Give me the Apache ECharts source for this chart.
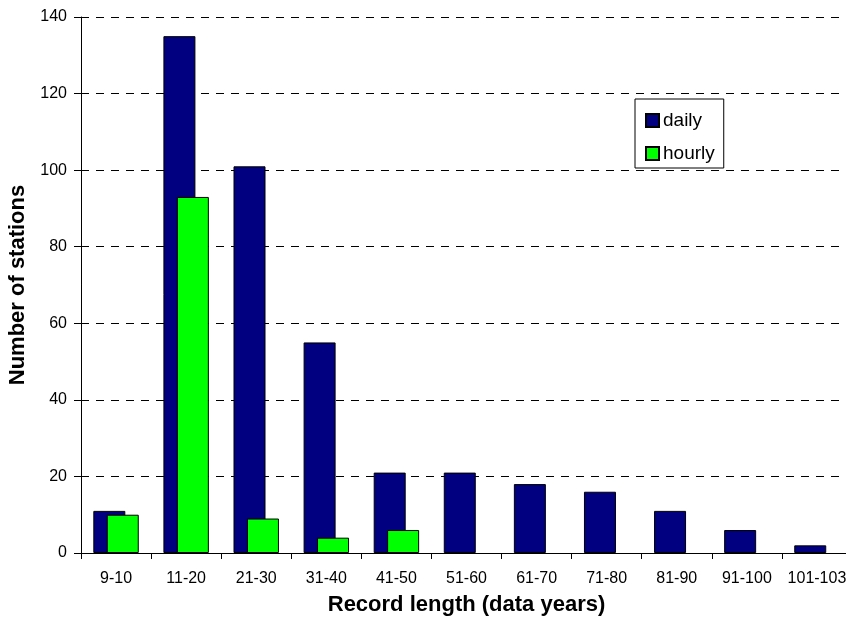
<!DOCTYPE html>
<html>
<head>
<meta charset="utf-8">
<script src="https://cdn.jsdelivr.net/npm/echarts@6/dist/echarts.min.js"></script>
<style>
html,body{margin:0;padding:0;background:#fff;}
#c{width:846px;height:620px;}
</style>
</head>
<body>
<div id="c"></div>
<script>
const categories = ['9-10','11-20','21-30','31-40','41-50','51-60','61-70','71-80','81-90','91-100','101-103'];
const dailyValues = [11, 135, 101, 55, 21, 21, 18, 16, 11, 6, 2];
const hourlyValues = [10, 93, 9, 4, 6, null, null, null, null, null, null];
const yTicks = {min: 0, max: 140, interval: 20};

const FONT = '"Liberation Sans", Arial, sans-serif';
const chart = echarts.init(document.getElementById('c'), null, {renderer: 'canvas'});
chart.setOption({
  animation: false,
  backgroundColor: '#ffffff',
  textStyle: {fontFamily: FONT, color: '#000'},
  grid: {left: 81, top: 17, width: 771, bottom: 67, containLabel: false, outerBoundsMode: 'none'},
  legend: {
    orient: 'vertical',
    left: 635, top: 99,
    padding: [12, 9, 5, 10],
    itemGap: 14,
    itemWidth: 13, itemHeight: 13,
    icon: 'rect',
    borderColor: '#000', borderWidth: 1,
    textStyle: {fontFamily: FONT, fontSize: 19, color: '#000', padding: [0,0,0,-1]},
    data: ['daily', 'hourly']
  },
  xAxis: {
    type: 'category',
    data: categories,
    name: 'Record length (data years)',
    nameLocation: 'middle',
    nameGap: 41,
    nameTextStyle: {fontFamily: FONT, fontSize: 22, fontWeight: 'bold', color: '#000'},
    axisLine: {lineStyle: {color: '#000', width: 1}},
    axisTick: {show: true, length: 6, lineStyle: {color: '#000'}},
    axisLabel: {fontFamily: FONT, fontSize: 16, color: '#000', margin: 18, interval: 0},
    splitLine: {show: false}
  },
  yAxis: {
    type: 'value',
    min: yTicks.min, max: yTicks.max, interval: yTicks.interval,
    name: 'Number of stations',
    nameLocation: 'middle',
    nameGap: 38,
    nameRotate: 90,
    nameTextStyle: {fontFamily: FONT, fontSize: 22, fontWeight: 'bold', color: '#000'},
    axisLine: {show: true, lineStyle: {color: '#000', width: 1}},
    axisTick: {show: true, length: 7, lineStyle: {color: '#000'}},
    axisLabel: {fontFamily: FONT, fontSize: 16, color: '#000', margin: 14},
    splitLine: {show: true, lineStyle: {color: '#000', type: [8, 7], width: 1}}
  },
  series: [
    {
      name: 'daily', type: 'bar', data: dailyValues,
      barWidth: 32, barGap: '-58%',
      itemStyle: {color: '#000080', borderColor: '#000', borderWidth: 1}
    },
    {
      name: 'hourly', type: 'bar', data: hourlyValues,
      barWidth: 32,
      itemStyle: {color: '#00FF00', borderColor: '#000', borderWidth: 1}
    }
  ]
});
</script>
</body>
</html>
